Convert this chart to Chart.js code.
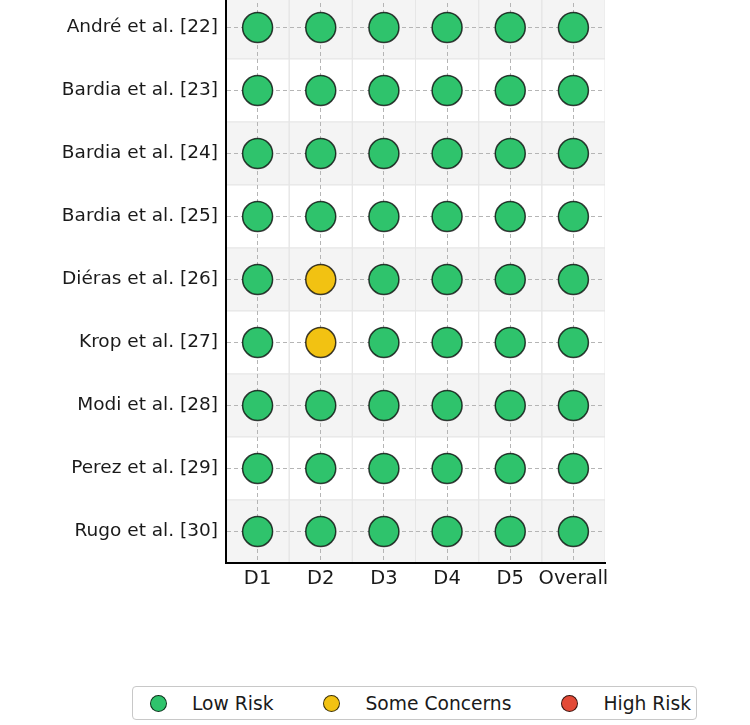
<!DOCTYPE html>
<html>
<head>
<meta charset="utf-8">
<script src="https://cdn.jsdelivr.net/npm/chart.js@4/dist/chart.umd.min.js"></script>
<style>
  html, body { margin: 0; padding: 0; background: #fff; }
  body { width: 750px; height: 725px; overflow: hidden; position: relative; font-family: "DejaVu Sans", sans-serif; }
  #grafic { position: absolute; left: 0; top: -4px; }
  #llegenda {
    position: absolute; left: 132px; top: 686px; width: 565px; height: 34px;
    border: 1px solid #c8c8c8; border-radius: 4px; box-sizing: border-box;
    display: flex; align-items: center; padding-left: 17px;
    font-size: 18.7px; color: #1a1a1a; white-space: nowrap;
  }
  #llegenda .item { display: flex; align-items: center; margin-right: 50px; flex-shrink: 0; }
  #llegenda .dot { width: 17px; height: 17px; border-radius: 50%; border: 1.3px solid rgba(0,0,0,0.75); margin-right: 25px; box-sizing: border-box; }
</style>
</head>
<body>
<canvas id="grafic" width="750" height="600"></canvas>
<div id="llegenda"></div>
<script>
// estudis (files) i dominis (columnes)
const studies = [
    'André et al. [22]', 'Bardia et al. [23]', 'Bardia et al. [24]',
    'Bardia et al. [25]', 'Diéras et al. [26]', 'Krop et al. [27]',
    'Modi et al. [28]', 'Perez et al. [29]', 'Rugo et al. [30]'
];
const domains = ['D1', 'D2', 'D3', 'D4', 'D5', 'Overall'];

// judici per domini, un valor per estudi (L = low, S = some concerns, H = high)
const riskD1 = ['L', 'L', 'L', 'L', 'L', 'L', 'L', 'L', 'L'];
const riskD2 = ['L', 'L', 'L', 'L', 'S', 'S', 'L', 'L', 'L'];
const riskD3 = ['L', 'L', 'L', 'L', 'L', 'L', 'L', 'L', 'L'];
const riskD4 = ['L', 'L', 'L', 'L', 'L', 'L', 'L', 'L', 'L'];
const riskD5 = ['L', 'L', 'L', 'L', 'L', 'L', 'L', 'L', 'L'];
const riskOverall = ['L', 'L', 'L', 'L', 'L', 'L', 'L', 'L', 'L'];

const riskCodes = ['L', 'S', 'H'];
const riskNames = ['Low Risk', 'Some Concerns', 'High Risk'];
const riskColors = ['#2fc36c', '#f2c212', '#e34a37'];

const judgements = [riskD1, riskD2, riskD3, riskD4, riskD5, riskOverall];

// un dataset per nivell de risc
const datasets = riskCodes.map((code, k) => {
    const punts = [];
    judgements.forEach((col, j) => {
        col.forEach((v, i) => { if (v === code) punts.push({ x: j, y: i }); });
    });
    return {
        label: riskNames[k],
        data: punts,
        backgroundColor: riskColors[k],
        borderColor: 'rgba(0,0,0,0.75)',
        borderWidth: 1.5,
        pointRadius: 15,
        pointHoverRadius: 15
    };
});

// fons de files alternes i vores de cel·la
const fonsCeles = {
    id: 'fonsCeles',
    beforeDraw(chart) {
        const { ctx, chartArea: a, scales: { x, y } } = chart;
        ctx.save();
        ctx.beginPath();
        ctx.rect(a.left, a.top, a.right - a.left, a.bottom - a.top);
        ctx.clip();
        studies.forEach((s, i) => {
            const y0 = y.getPixelForValue(i - 0.5);
            const y1 = y.getPixelForValue(i + 0.5);
            ctx.fillStyle = i % 2 === 0 ? '#f4f4f4' : '#ffffff';
            ctx.fillRect(a.left, Math.min(y0, y1), a.right - a.left, Math.abs(y1 - y0));
            ctx.strokeStyle = '#e6e6e6';
            ctx.lineWidth = 1;
            domains.forEach((d, j) => {
                const x0 = x.getPixelForValue(j - 0.5);
                const x1 = x.getPixelForValue(j + 0.5);
                ctx.strokeRect(x0, Math.min(y0, y1), x1 - x0, Math.abs(y1 - y0));
            });
        });
        ctx.restore();
    }
};

// sense marges extra de les etiquetes extremes
function senseMarges(s) {
    s.paddingTop = 0; s.paddingBottom = 0; s.paddingLeft = 0; s.paddingRight = 0;
}

const ctx = document.getElementById('grafic').getContext('2d');
const grafic = new Chart(ctx, {
    type: 'scatter',
    data: { datasets: datasets },
    options: {
        responsive: false,
        animation: false,
        layout: { autoPadding: false, padding: { left: 0, right: 145, top: 0, bottom: 0 } },
        plugins: { legend: { display: false }, tooltip: { enabled: false } },
        scales: {
            x: {
                type: 'linear', min: -0.5, max: 5.5,
                afterBuildTicks: s => { s.ticks = domains.map((d, j) => ({ value: j })); },
                afterFit: s => { s.height = 33; senseMarges(s); },
                ticks: {
                    callback: v => domains[v],
                    font: { family: 'DejaVu Sans', size: 19.5 },
                    color: '#1a1a1a', padding: 4, maxRotation: 0, autoSkip: false
                },
                grid: { color: '#b5b5b5', lineWidth: 1, drawTicks: false },
                border: { display: true, color: '#000', width: 2, dash: [4, 3] }
            },
            y: {
                type: 'linear', min: -0.5, max: 8.5, reverse: true,
                afterBuildTicks: s => { s.ticks = studies.map((t, i) => ({ value: i })); },
                afterFit: s => { s.width = 226; senseMarges(s); },
                ticks: {
                    callback: v => studies[v],
                    font: { family: 'DejaVu Sans', size: 18.5 },
                    color: '#1a1a1a', padding: 8, autoSkip: false
                },
                grid: { color: '#b5b5b5', lineWidth: 1, drawTicks: false },
                border: { display: true, color: '#000', width: 2, dash: [4, 3] }
            }
        }
    },
    plugins: [fonsCeles]
});

// llegenda en HTML a partir dels datasets
const llegenda = document.getElementById('llegenda');
llegenda.innerHTML = grafic.data.datasets.map(ds => `
    <div class="item"><span class="dot" style="background:${ds.backgroundColor}"></span><span>${ds.label}</span></div>
`).join('');
</script>
</body>
</html>
